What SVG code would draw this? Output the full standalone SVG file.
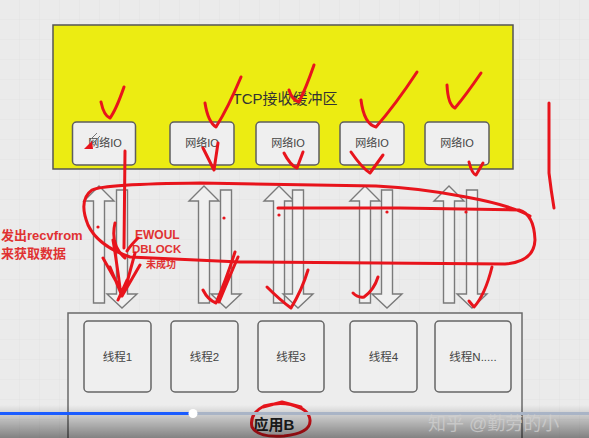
<svg xmlns="http://www.w3.org/2000/svg" width="589" height="438" viewBox="0 0 589 438">
<style>
text{font-family:"Liberation Sans","Noto Sans CJK SC",sans-serif}
.io{fill:#efefef;stroke:#5e5e5e;stroke-width:1.5}
.th{fill:#efefef;stroke:#666;stroke-width:1.5}
.lbl{font-size:11px;fill:#444;text-anchor:middle}
.tl{font-size:11.5px;fill:#444;text-anchor:middle}
.arr{fill:#f0f0f0;stroke:#7a7a7a;stroke-width:1.4;stroke-linejoin:miter}
.red{fill:none;stroke:#e8141c;stroke-width:3;stroke-linecap:round;stroke-linejoin:round}
.rt{font-weight:bold;fill:#e03232}
</style>
<defs>
<pattern id="grid" width="20" height="20" patternUnits="userSpaceOnUse">
<path d="M20 0V20M0 20H20" fill="none" stroke="#e2e2e2" stroke-width="1"/>
</pattern>
<path id="up" d="M0 0L15 15H5.5V117H-5.5V15H-15Z"/>
<path id="down" d="M-5.5 0H5.5V104H15L0 118L-15 104H-5.5Z"/>
<linearGradient id="shade" x1="0" y1="0" x2="0" y2="1">
<stop offset="0" stop-color="#000" stop-opacity="0"/>
<stop offset="1" stop-color="#000" stop-opacity="0.45"/>
</linearGradient>
</defs>
<rect width="589" height="438" fill="#ebebeb"/>
<rect width="589" height="438" fill="url(#grid)"/>

<g id="tcp-buffer">
<rect x="53" y="25" width="460" height="144" fill="#ecec12" stroke="#555" stroke-width="1.5"/>
<text x="285" y="104" font-size="15" fill="#333" text-anchor="middle">TCP接收缓冲区</text>
</g>
<g id="io1"><rect class="io" x="72.5" y="122" width="63" height="43" rx="4"/><text class="lbl" x="105" y="147">网络IO</text></g>
<g id="io2"><rect class="io" x="170" y="122" width="64" height="43" rx="4"/><text class="lbl" x="202" y="147">网络IO</text></g>
<g id="io3"><rect class="io" x="256" y="122" width="63" height="43" rx="4"/><text class="lbl" x="288" y="147">网络IO</text></g>
<g id="io4"><rect class="io" x="340" y="122" width="64" height="43" rx="4"/><text class="lbl" x="372" y="147">网络IO</text></g>
<g id="io5"><rect class="io" x="425" y="122" width="64" height="43" rx="4"/><text class="lbl" x="457" y="147">网络IO</text></g>

<g id="app-b">
<rect x="68" y="313" width="454" height="140" fill="#ededed" stroke="#6a6a6a" stroke-width="1.5"/>
<text x="274" y="430" font-size="15" font-weight="bold" fill="#222" text-anchor="middle">应用B</text>
</g>
<g id="t1"><rect class="th" x="84" y="321" width="67" height="71" rx="4"/><text class="tl" x="117.5" y="361">线程1</text></g>
<g id="t2"><rect class="th" x="171" y="321" width="67" height="71" rx="4"/><text class="tl" x="204.5" y="361">线程2</text></g>
<g id="t3"><rect class="th" x="258" y="321" width="66" height="71" rx="4"/><text class="tl" x="291" y="361">线程3</text></g>
<g id="t4"><rect class="th" x="350" y="321" width="67" height="71" rx="4"/><text class="tl" x="383.5" y="361">线程4</text></g>
<g id="t5"><rect class="th" x="435" y="321" width="76" height="71" rx="4"/><text class="tl" x="473" y="361">线程N.....</text></g>

<g id="connectors">
<use href="#up" class="arr" transform="translate(99 186)"/>
<use href="#up" class="arr" transform="translate(204 186)"/>
<use href="#up" class="arr" transform="translate(279 186)"/>
<use href="#up" class="arr" transform="translate(365 186)"/>
<use href="#up" class="arr" transform="translate(449 186)"/>
<use href="#down" class="arr" transform="translate(122 190)"/>
<use href="#down" class="arr" transform="translate(226 190)"/>
<use href="#down" class="arr" transform="translate(298 190)"/>
<use href="#down" class="arr" transform="translate(387 190)"/>
<use href="#down" class="arr" transform="translate(472 190)"/>
</g>

<g id="labels">
<text class="rt" x="1" y="240" font-size="13">发出recvfrom</text>
<text class="rt" x="1" y="258" font-size="13">来获取数据</text>
<text class="rt" x="135" y="239" font-size="12">EWOUL</text>
<text class="rt" x="132" y="253" font-size="11.5">DBLOCK</text>
<text class="rt" x="146" y="268" font-size="10">未成功</text>
</g>

<g id="annotations">
<path class="red" d="M101 102Q104 116 110 118Q116 110 124 87"/>
<path class="red" d="M205 103Q208 122 216 127Q228 108 241 77"/>
<path class="red" d="M289 90Q292 100 299 102Q306 88 314 65"/>
<path class="red" d="M361 100Q364 124 376 127Q396 104 417 72"/>
<path class="red" d="M447 85Q448 105 455 108Q466 95 481 73"/>
<path class="red" d="M203 148L214 170L218 143"/>
<path class="red" d="M284 153Q290 165 297 168L303 152"/>
<path class="red" d="M351 152Q362 168 370 173L383 155"/>
<path class="red" d="M469 162Q472 174 476 175L483 163"/>
<path d="M84 149L92 141L93 149Z" fill="#e8141c"/>
<path d="M89 141L97 133M92 144L100 136" stroke="#777" stroke-width="1" fill="none"/>
<path class="red" d="M125 151L124 248"/>
<path class="red" d="M278 208L400 208L519 210Q534 214 535 240Q534 262 505 264L240 262L130 257Q98 246 88 225Q78 200 92 190Q104 184 200 183L376 186Q420 188 466 197Q510 205 530 216"/>
<path class="red" d="M115 223Q110 245 125 258M138 238Q130 246 127 251M103 258L122 292M110 267L122 296M140 265L122 296M135 253L125 290M127 280L118 300M113 240Q118 270 121 296"/>
<path class="red" d="M203 290Q208 300 216 303Q226 280 235 252M238 257Q226 285 219 302"/>
<path class="red" d="M267 287Q280 300 291 308Q302 290 308 270"/>
<path class="red" d="M353 293Q358 298 364 297Q374 290 378 277"/>
<path class="red" d="M492 267Q485 295 474 307L469 301"/>
<path class="red" d="M549 103L549 173Q551 190 554 208"/>
<path class="red" d="M300 408Q284 400 264 406Q249 414 252 427Q258 438 284 436Q311 433 310 420Q309 409 292 405M263 407L282 402L301 407"/>
<g fill="#e8141c"><circle cx="98" cy="227" r="1.6"/><circle cx="224" cy="218" r="1.6"/><circle cx="279" cy="215" r="1.6"/><circle cx="387" cy="212" r="1.6"/><circle cx="466" cy="212" r="1.6"/></g>
</g>

<g id="video-overlay">
<rect x="0" y="405" width="589" height="33" fill="url(#shade)"/>
<rect x="0" y="412" width="193" height="3" fill="#1a5cff"/>
<rect x="193" y="412" width="396" height="3" fill="#a9b4c6"/>
<circle cx="193" cy="413.5" r="4.5" fill="#fff"/>
<text x="428" y="430" font-size="18" fill="#d0d0d0" fill-opacity="0.75">知乎 @勤劳的小</text>
</g>
</svg>
